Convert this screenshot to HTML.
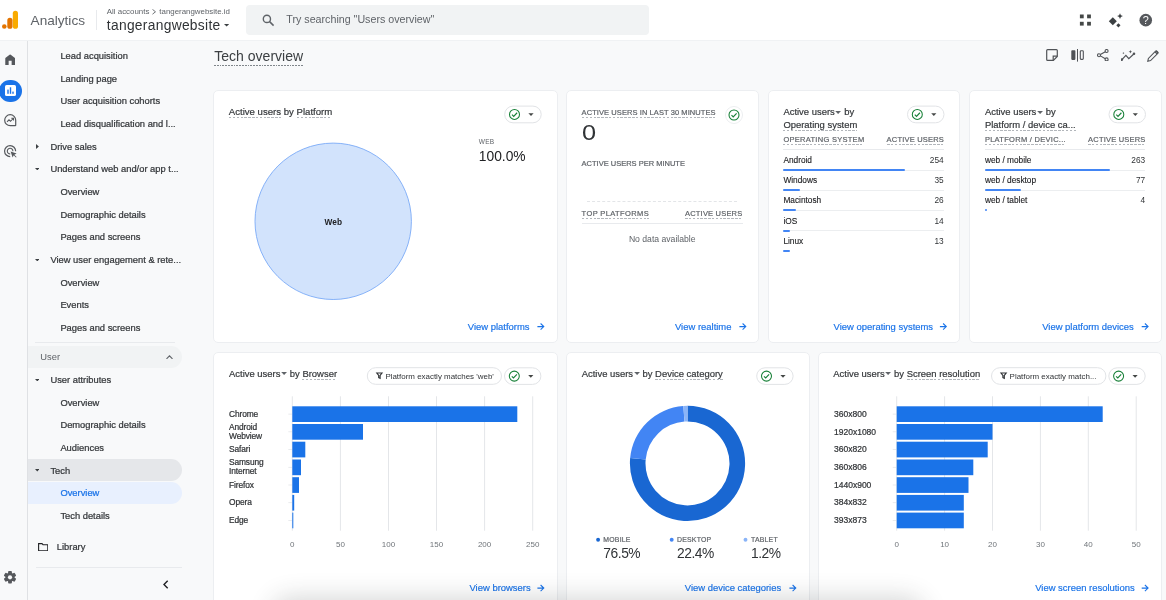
<!DOCTYPE html>
<html lang="en">
<head>
<meta charset="utf-8">
<title>Tech overview - Analytics</title>
<style>
*{box-sizing:border-box}
html,body{margin:0;padding:0}
html{background:#f8f9fa}
#app{position:absolute;left:0;top:0;width:1166px;height:600px;overflow:hidden;will-change:transform}
body{width:1166px;height:600px;overflow:hidden;position:relative;background:#f8f9fa;font-family:"Liberation Sans",Arial,sans-serif;color:#3c4043}
.t{position:absolute;white-space:nowrap;line-height:1;margin:0;font-weight:400}
.m{-webkit-text-stroke:0.24px currentColor}
.m2{-webkit-text-stroke:0.2px currentColor}
.abs{position:absolute}
header.top{position:absolute;left:0;top:0;width:1166px;height:41px;background:#fff;border-bottom:1px solid #f0f2f4}
.search{position:absolute;left:246px;top:5px;width:402.5px;height:30px;background:#f1f3f4;border-radius:4px}
nav.rail{position:absolute;left:0;top:41px;width:28px;height:559px;border-right:1px solid #dfe1e4;background:#f8f9fa}
nav.side{position:absolute;left:28px;top:40px;width:160px;height:560px}
nav.side ul{list-style:none;margin:0;padding:0}
.pill{position:absolute;left:0;width:154px;border-radius:0 11px 11px 0}
.card{position:absolute;background:#fff;border:1px solid #eceef1;border-radius:5px}
.du{background:repeating-linear-gradient(90deg,#b2b6bb 0,#b2b6bb 2.5px,transparent 2.5px,transparent 3.85px) 0 100%/100% 1px no-repeat;padding-bottom:1.1px}
.chk{position:absolute;height:17.6px;border:1px solid #e2e4e7;border-radius:9px;background:#fff}
.link{color:#1a73e8;-webkit-text-stroke:0.18px #1a73e8}
.hr{position:absolute;height:1px;background:#e8eaed}
.bar{position:absolute;height:2px;background:#4285f4;border-radius:1px}
</style>
</head>
<body>
<div id="app">
<header class="top">
<svg class="abs" style="left:2px;top:10px" width="17" height="20" viewBox="0 0 17 20"><rect x="10.8" y="0.7" width="5.2" height="18.1" rx="2.6" fill="#f9ab00"/><rect x="5.3" y="7.8" width="5.2" height="11" rx="2.6" fill="#e37400"/><circle cx="2.3" cy="16.5" r="2.3" fill="#e37400"/></svg>
<span class="t" style="left:30.6px;top:13.5px;font-size:13.6px;color:#5f6368;">Analytics</span>
<div class="abs" style="left:95.5px;top:10px;width:1px;height:20px;background:#e8eaed"></div>
<span class="t" style="left:106.8px;top:8.4px;font-size:7.9px;color:#5f6368;">All accounts <svg width="4.2" height="5.6" viewBox="0 0 4.2 5.6" style="vertical-align:-0.3px;margin:0 0.6px 0 0.8px"><path d="M0.5 0.4L3.5 2.8L0.5 5.2" fill="none" stroke="#5f6368" stroke-width="0.9"/></svg> tangerangwebsite.id</span>
<span class="t" style="left:106.8px;top:19.0px;font-size:13.8px;color:#303336;letter-spacing:0.3px">tangerangwebsite</span>
<svg class="abs" style="left:224.2px;top:24.0px" width="5.2" height="2.6" viewBox="0 0 5.2 2.6"><path d="M0 0H5.2L2.6 2.6Z" fill="#3c4043"/></svg>
<div class="search">
<svg class="abs" style="left:16px;top:9.3px" width="13" height="13" viewBox="0 0 13 13"><circle cx="4.9" cy="4.9" r="3.6" fill="none" stroke="#5f6368" stroke-width="1.4"/><path d="M7.6 7.6L11.6 11.6" stroke="#5f6368" stroke-width="1.5"/></svg>
<span class="t" style="left:40.3px;top:9.2px;font-size:10.7px;color:#5f6368;">Try searching "Users overview"</span>
</div>
<svg class="abs" style="left:1079px;top:14px" width="13" height="13" viewBox="0 0 13 13" fill="#444746"><rect x="0.9" y="0.5" width="3.8" height="3.8"/><rect x="8.1" y="0.5" width="3.8" height="3.8"/><rect x="0.9" y="7.8" width="3.8" height="3.8"/><rect x="8.1" y="7.8" width="3.8" height="3.8"/></svg>
<svg class="abs" style="left:1108px;top:12px" width="16" height="17" viewBox="0 0 16 17" fill="#3c4043"><path d="M4.8 5.3L8.8 9.3L4.8 13.3L0.8 9.3Z"/><path d="M12 1.2L12.9 3.2L14.9 4.1L12.9 5L12 7L11.1 5L9.1 4.1L11.1 3.2Z"/><path d="M10.4 11.2L12.5 13.3L10.4 15.4L8.3 13.3Z"/></svg>
<svg class="abs" style="left:1139px;top:13px" width="14" height="15" viewBox="0 0 14 15"><circle cx="6.75" cy="7.15" r="6.3" fill="#55585c"/><text x="6.75" y="11.1" font-size="10.8" font-weight="400" text-anchor="middle" fill="#fff" font-family="Liberation Sans,Arial,sans-serif">?</text></svg>
</header>
<nav class="rail"><div class="abs" style="left:0;top:-1px">
<svg class="abs" style="left:4.9px;top:14.4px" width="10.3" height="11.8" viewBox="0 0 11 12" preserveAspectRatio="none"><path d="M0.3 11.3V4.6Q0.3 4.1 0.7 3.8L4.9 0.7Q5.5 0.3 6.1 0.7L10.3 3.8Q10.7 4.1 10.7 4.6V11.3H7.1V6.8H3.9V11.3Z" fill="#55585c"/></svg>
<div class="abs" style="left:-0.9px;top:39.5px;width:22.4px;height:22.4px;border-radius:50%;background:#1a73e8"></div>
<svg class="abs" style="left:4.5px;top:45px" width="11" height="11" viewBox="0 0 11 11"><rect x="0" y="0" width="11" height="11" rx="1.6" fill="#fff"/><rect x="2.3" y="4.6" width="1.4" height="4.2" fill="#1a73e8"/><rect x="4.8" y="2.3" width="1.4" height="6.5" fill="#1a73e8"/><rect x="7.3" y="6.6" width="1.4" height="2.2" fill="#1a73e8"/></svg>
<svg class="abs" style="left:3.5px;top:74.3px" width="13" height="13" viewBox="0 0 13 13" fill="none" stroke="#55585c" stroke-width="1.2"><path d="M6.2 0.7A5.5 5.5 0 1 0 6.2 11.7H11.2Q11.7 11.7 11.7 11.2V6.2A5.5 5.5 0 0 0 6.2 0.7Z"/><path d="M3 7.8L5 5.8L6.5 7.3L9.3 4.5M7.3 4.3H9.5V6.5" stroke-width="1.05"/></svg>
<svg class="abs" style="left:3.5px;top:104.5px" width="14" height="14" viewBox="0 0 14 14" fill="none" stroke="#55585c" stroke-width="1.2"><path d="M6.2 11.6A5.5 5.5 0 1 1 11.6 6.2"/><path d="M6.2 8.9A2.8 2.8 0 1 1 8.9 6.2" stroke-width="1.1"/><path d="M6.6 6.6L12.6 8.6L10.3 9.7L12.6 12L12 12.6L9.7 10.3L8.6 12.6Z" fill="#55585c" stroke="none"/></svg>
<svg class="abs" style="left:3px;top:530px" width="14" height="14" viewBox="-7 -7.3 14 14"><g fill="#55585c"><rect x="-1.9" y="-6.2" width="3.8" height="12.4" rx="0.9" transform="rotate(0)"/><rect x="-1.9" y="-6.2" width="3.8" height="12.4" rx="0.9" transform="rotate(60)"/><rect x="-1.9" y="-6.2" width="3.8" height="12.4" rx="0.9" transform="rotate(120)"/><circle r="4.5"/></g><circle r="2.1" fill="#f8f9fa"/></svg>
</div></nav>
<nav class="side">
<div class="hr" style="left:6.600000000000001px;top:301.6px;width:140px"></div>
<div class="pill" style="top:305.7px;height:22.6px;background:#f1f3f4"></div>
<div class="pill" style="top:419px;height:22.4px;background:#e5e7ea"></div>
<div class="pill" style="top:441.6px;height:22.4px;background:#e8f0fe"></div>
<ul>
<li><span class="t m" style="left:32.4px;top:11.8px;font-size:9.35px;color:#34373a;">Lead acquisition</span></li>
<li><span class="t m" style="left:32.4px;top:34.5px;font-size:9.35px;color:#34373a;">Landing page</span></li>
<li><span class="t m" style="left:32.4px;top:57.1px;font-size:9.35px;color:#34373a;">User acquisition cohorts</span></li>
<li><span class="t m" style="left:32.4px;top:79.8px;font-size:9.35px;color:#34373a;">Lead disqualification and l...</span></li>
<li><svg class="abs" style="left:7.9px;top:103.9px" width="2.9" height="5" viewBox="0 0 2.9 5"><path d="M0 0L2.9 2.5L0 5Z" fill="#3c4043"/></svg><span class="t m" style="left:22.4px;top:102.5px;font-size:9.35px;color:#34373a;">Drive sales</span></li>
<li><svg class="abs" style="left:6.9px;top:127.9px" width="4.6" height="2.4" viewBox="0 0 4.6 2.4"><path d="M0 0H4.6L2.3 2.4Z" fill="#3c4043"/></svg><span class="t m" style="left:22.4px;top:125.1px;font-size:9.35px;color:#34373a;">Understand web and/or app t...</span></li>
<li><span class="t m" style="left:32.4px;top:147.8px;font-size:9.35px;color:#34373a;">Overview</span></li>
<li><span class="t m" style="left:32.4px;top:170.5px;font-size:9.35px;color:#34373a;">Demographic details</span></li>
<li><span class="t m" style="left:32.4px;top:193.1px;font-size:9.35px;color:#34373a;">Pages and screens</span></li>
<li><svg class="abs" style="left:6.9px;top:218.6px" width="4.6" height="2.4" viewBox="0 0 4.6 2.4"><path d="M0 0H4.6L2.3 2.4Z" fill="#3c4043"/></svg><span class="t m" style="left:22.4px;top:215.8px;font-size:9.35px;color:#34373a;">View user engagement &amp; rete...</span></li>
<li><span class="t m" style="left:32.4px;top:238.5px;font-size:9.35px;color:#34373a;">Overview</span></li>
<li><span class="t m" style="left:32.4px;top:261.1px;font-size:9.35px;color:#34373a;">Events</span></li>
<li><span class="t m" style="left:32.4px;top:283.8px;font-size:9.35px;color:#34373a;">Pages and screens</span></li>
</ul>
<span class="t" style="left:12.3px;top:312.8px;font-size:9.35px;color:#5f6368;">User</span>
<svg class="abs" style="left:137.5px;top:314.8px" width="7" height="4.4" viewBox="0 0 7 4.4"><path d="M0.5 3.9L3.5 0.8L6.5 3.9" fill="none" stroke="#5f6368" stroke-width="1.1"/></svg>
<ul>
<li><svg class="abs" style="left:6.9px;top:338.7px" width="4.6" height="2.4" viewBox="0 0 4.6 2.4"><path d="M0 0H4.6L2.3 2.4Z" fill="#3c4043"/></svg><span class="t m" style="left:22.4px;top:335.9px;font-size:9.35px;color:#34373a;">User attributes</span></li>
<li><span class="t m" style="left:32.4px;top:358.6px;font-size:9.35px;color:#34373a;">Overview</span></li>
<li><span class="t m" style="left:32.4px;top:381.2px;font-size:9.35px;color:#34373a;">Demographic details</span></li>
<li><span class="t m" style="left:32.4px;top:403.9px;font-size:9.35px;color:#34373a;">Audiences</span></li>
<li><svg class="abs" style="left:6.9px;top:429.3px" width="4.6" height="2.4" viewBox="0 0 4.6 2.4"><path d="M0 0H4.6L2.3 2.4Z" fill="#3c4043"/></svg><span class="t m" style="left:22.4px;top:426.5px;font-size:9.35px;color:#34373a;">Tech</span></li>
<li><span class="t m" style="left:32.4px;top:449.2px;font-size:9.35px;color:#1a73e8;">Overview</span></li>
<li><span class="t m" style="left:32.4px;top:471.8px;font-size:9.35px;color:#34373a;">Tech details</span></li>
</ul>
<svg class="abs" style="left:10px;top:502.70000000000005px" width="10.4" height="8.4" viewBox="0 0 10.4 8.4"><path d="M0.6 0.6H4L5 1.7H9.8V7.8H0.6Z" fill="none" stroke="#202124" stroke-width="1.1"/></svg>
<span class="t m" style="left:28.8px;top:502.5px;font-size:9.35px;color:#34373a;">Library</span>
<div class="hr" style="left:7.5px;top:526.8px;width:146px"></div>
<svg class="abs" style="left:135.2px;top:540.3px" width="5.4" height="9" viewBox="0 0 5.4 9"><path d="M4.7 0.7L1 4.5L4.7 8.3" fill="none" stroke="#202124" stroke-width="1.4"/></svg>
</nav>
<main>
<h1 class="t" style="left:214.2px;top:49.4px;font-size:14.05px;color:#3c4043;"><span class="du" style="padding-bottom:1.3px;background-image:repeating-linear-gradient(90deg,#80868b 0,#80868b 1.8px,transparent 1.8px,transparent 2.8px)">Tech overview</span></h1>
<svg class="abs" style="left:1046.3px;top:49.3px" width="12" height="12" viewBox="0 0 12 12" fill="none" stroke="#505357" stroke-width="1.2"><path d="M1.6 0.7H10.4Q11.3 0.7 11.3 1.6V7.4L7.4 11.3H1.6Q0.7 11.3 0.7 10.4V1.6Q0.7 0.7 1.6 0.7Z"/><path d="M7.2 11.2V7.2H11.2"/></svg>
<svg class="abs" style="left:1071px;top:48.8px" width="13" height="13" viewBox="0 0 13 13"><rect x="0.3" y="1.3" width="4.1" height="9.6" rx="0.8" fill="#505357"/><rect x="6" y="0" width="1" height="12.6" fill="#505357"/><rect x="9.3" y="1.8" width="3" height="8.6" rx="0.8" fill="none" stroke="#505357" stroke-width="1.1"/></svg>
<svg class="abs" style="left:1096.5px;top:49px" width="12" height="12.4" viewBox="0 0 12 12.4" fill="none" stroke="#505357" stroke-width="1.1"><circle cx="9.6" cy="2" r="1.5"/><circle cx="9.6" cy="10.4" r="1.5"/><circle cx="2" cy="6.2" r="1.5"/><path d="M3.4 5.5L8.3 2.7M3.4 6.9L8.3 9.7"/></svg>
<svg class="abs" style="left:1120.6px;top:50px" width="15" height="11" viewBox="0 0 15 11" fill="none" stroke="#505357" stroke-width="1.2"><path d="M0.9 9.6L4.9 5.4L7.8 8.6L12.8 4"/><circle cx="0.9" cy="9.6" r="0.7" fill="#505357"/><circle cx="13" cy="3.8" r="0.7" fill="#505357"/><path d="M9.4 0L9.9 1.3L11.2 1.8L9.9 2.3L9.4 3.6L8.9 2.3L7.6 1.8L8.9 1.3Z" fill="#505357" stroke="none"/><path d="M2.4 2L2.7 2.8L3.5 3.1L2.7 3.4L2.4 4.2L2.1 3.4L1.3 3.1L2.1 2.8Z" fill="#505357" stroke="none"/></svg>
<svg class="abs" style="left:1146.8px;top:49.5px" width="12" height="12" viewBox="0 0 12 12" fill="none" stroke="#505357" stroke-width="1.1"><path d="M0.8 11.2L1.4 8.4L8.6 1.2Q9.2 0.6 9.8 1.2L10.8 2.2Q11.4 2.8 10.8 3.4L3.6 10.6Z"/><path d="M8 1.8L10.2 4" /><path d="M8.4 1.4L9.4 0.6L11.4 2.6L10.6 3.6Z" fill="#505357" stroke="none"/></svg>
<section class="card" style="left:213px;top:90px;width:344.5px;height:252.5px">
<h2 class="t m2" style="left:14.8px;top:15.6px;font-size:9.6px;color:#34373a;"><span class="du">Active users</span> by <span class="du">Platform</span></h2>
<svg class="abs" style="left:289px;top:13px" width="41" height="21" viewBox="0 0 41 21"><rect x="1.70" y="2.10" width="36.50" height="16.70" rx="8.35" fill="#fff" stroke="#e1e3e6" stroke-width="1"/><g transform="translate(1.20 1.60)"><circle cx="10.3" cy="8.85" r="5" fill="none" stroke="#188038" stroke-width="1.05"/><path d="M7.8 9.049999999999999 L9.5 10.75 L12.9 7.1499999999999995" fill="none" stroke="#188038" stroke-width="1.15"/><path d="M24.2 7.6499999999999995H29.4L26.8 10.45Z" fill="#444746"/></g></svg>
<svg class="abs" style="left:39px;top:50px" width="160" height="160" viewBox="253 141 160 160"><circle cx="333.2" cy="221.3" r="78.2" fill="#d2e3fc" stroke="#7baaf7" stroke-width="0.9"/><text x="333.3" y="224.5" font-size="8.3" font-weight="700" text-anchor="middle" fill="#202124" font-family="Liberation Sans,Arial,sans-serif">Web</text></svg>
<span class="t" style="left:264.8px;top:48.1px;font-size:6.5px;color:#5f6368;letter-spacing:0.25px">WEB</span>
<span class="t" style="left:264.8px;top:58.6px;font-size:13.8px;color:#202124;">100.0%</span>
<a class="t link" style="left:253.8px;top:230.9px;font-size:9.45px;color:#1a73e8;">View platforms</a><svg class="abs" style="left:323px;top:231px" width="10" height="10" viewBox="0 0 10 10"><path transform="translate(0.00 0.90)" d="M0.4 3.7H6.6M3.6 0.6L6.8 3.7L3.6 6.8" fill="none" stroke="#1a73e8" stroke-width="1.05"/></svg>
</section>
<section class="card" style="left:566px;top:90px;width:193px;height:252.5px">
<span class="t m2" style="left:14.6px;top:17.7px;font-size:7.5px;color:#5f6368;letter-spacing:0.08px"><span class="du">ACTIVE USERS IN LAST 30 MINUTES</span></span>
<div class="abs" style="left:158.20000000000005px;top:14.900000000000006px;width:18px;height:18px;border-radius:50%;border:1px solid #eceef0"></div>
<svg class="abs" style="left:160.20000000000005px;top:16.900000000000006px" width="14" height="14" viewBox="-7 -7 14 14"><circle r="5" fill="none" stroke="#188038" stroke-width="1.05"/><path d="M-2.5 0.2 L-0.8 1.9 L2.6 -1.7" fill="none" stroke="#188038" stroke-width="1.15"/></svg>
<span class="t" style="left:14.6px;top:30.9px;font-size:22.6px;color:#303336;transform:scaleX(1.12);transform-origin:0 50%">0</span>
<span class="t m2" style="left:14.6px;top:68.8px;font-size:7.5px;color:#5f6368;">ACTIVE USERS PER MINUTE</span>
<div class="abs" style="left:20px;top:109.6px;width:150px;height:0;border-top:1px dashed #e3e5e8"></div>
<span class="t m2" style="left:14.6px;top:119.2px;font-size:7.5px;color:#5f6368;letter-spacing:0.38px"><span class="du" style="padding-bottom:1.2px">TOP PLATFORMS</span></span>
<span class="t m2" style="left:118.0px;top:119.2px;font-size:7.5px;color:#5f6368;letter-spacing:0.2px"><span class="du" style="padding-bottom:1.2px">ACTIVE USERS</span></span>
<div class="hr" style="left:14.600000000000023px;top:131.6px;width:161.4px"></div>
<span class="t" style="left:61.9px;top:143.7px;font-size:8.65px;color:#5f6368;">No data available</span>
<a class="t link" style="left:108.0px;top:230.9px;font-size:9.45px;color:#1a73e8;">View realtime</a><svg class="abs" style="left:172px;top:231px" width="10" height="10" viewBox="0 0 10 10"><path transform="translate(0.00 0.90)" d="M0.4 3.7H6.6M3.6 0.6L6.8 3.7L3.6 6.8" fill="none" stroke="#1a73e8" stroke-width="1.05"/></svg>
</section>
<section class="card" style="left:768px;top:90px;width:192px;height:252.5px">
<h2 style="margin:0;font-weight:400">
<span class="t m2" style="left:14.4px;top:16.2px;font-size:9.45px;color:#34373a;">Active users<svg width="6.2" height="3" viewBox="0 0 6.2 3" style="vertical-align:1.6px;margin-left:0.6px"><path d="M0.2 0H6L3.1 3Z" fill="#5f6368"/></svg> by</span>
<span class="t m2" style="left:14.4px;top:29.0px;font-size:9.45px;color:#34373a;"><span class="du">Operating system</span></span>
</h2>
<svg class="abs" style="left:137px;top:13px" width="41" height="21" viewBox="0 0 41 21"><rect x="1.50" y="2.10" width="36.50" height="16.70" rx="8.35" fill="#fff" stroke="#e1e3e6" stroke-width="1"/><g transform="translate(1.00 1.60)"><circle cx="10.3" cy="8.85" r="5" fill="none" stroke="#188038" stroke-width="1.05"/><path d="M7.8 9.049999999999999 L9.5 10.75 L12.9 7.1499999999999995" fill="none" stroke="#188038" stroke-width="1.15"/><path d="M24.2 7.6499999999999995H29.4L26.8 10.45Z" fill="#444746"/></g></svg>
<span class="t m2" style="left:14.4px;top:44.9px;font-size:7.5px;color:#5f6368;letter-spacing:0.28px"><span class="du">OPERATING SYSTEM</span></span>
<span class="t m2" style="right:15.0px;top:44.9px;font-size:7.5px;color:#5f6368;letter-spacing:0.2px"><span class="du">ACTIVE USERS</span></span>
<div class="hr" style="left:14.399999999999977px;top:58.19999999999999px;width:160.60000000000002px"></div>
<span class="t" style="left:14.4px;top:65.2px;font-size:8.3px;color:#202124;-webkit-text-stroke:0.12px currentColor">Android</span>
<span class="t" style="right:15.3px;top:65.2px;font-size:8.3px;color:#303336;">254</span>
<div class="hr" style="left:14.399999999999977px;top:78.6px;width:160.60000000000002px;background:#eceef0"></div>
<div class="bar" style="left:14.399999999999977px;top:77.9px;width:122.1px"></div>
<span class="t" style="left:14.4px;top:85.3px;font-size:8.3px;color:#202124;-webkit-text-stroke:0.12px currentColor">Windows</span>
<span class="t" style="right:15.3px;top:85.3px;font-size:8.3px;color:#303336;">35</span>
<div class="hr" style="left:14.399999999999977px;top:98.8px;width:160.60000000000002px;background:#eceef0"></div>
<div class="bar" style="left:14.399999999999977px;top:98.1px;width:16.8px"></div>
<span class="t" style="left:14.4px;top:105.4px;font-size:8.3px;color:#202124;-webkit-text-stroke:0.12px currentColor">Macintosh</span>
<span class="t" style="right:15.3px;top:105.4px;font-size:8.3px;color:#303336;">26</span>
<div class="hr" style="left:14.399999999999977px;top:119.0px;width:160.60000000000002px;background:#eceef0"></div>
<div class="bar" style="left:14.399999999999977px;top:118.3px;width:12.5px"></div>
<span class="t" style="left:14.4px;top:125.5px;font-size:8.3px;color:#202124;-webkit-text-stroke:0.12px currentColor">iOS</span>
<span class="t" style="right:15.3px;top:125.5px;font-size:8.3px;color:#303336;">14</span>
<div class="hr" style="left:14.399999999999977px;top:139.3px;width:160.60000000000002px;background:#eceef0"></div>
<div class="bar" style="left:14.399999999999977px;top:138.6px;width:6.7px"></div>
<span class="t" style="left:14.4px;top:145.6px;font-size:8.3px;color:#202124;-webkit-text-stroke:0.12px currentColor">Linux</span>
<span class="t" style="right:15.3px;top:145.6px;font-size:8.3px;color:#303336;">13</span>

<div class="bar" style="left:14.399999999999977px;top:158.8px;width:6.3px"></div>
<a class="t link" style="left:64.6px;top:230.9px;font-size:9.45px;color:#1a73e8;">View operating systems</a><svg class="abs" style="left:170px;top:231px" width="10" height="10" viewBox="0 0 10 10"><path transform="translate(0.50 0.90)" d="M0.4 3.7H6.6M3.6 0.6L6.8 3.7L3.6 6.8" fill="none" stroke="#1a73e8" stroke-width="1.05"/></svg>
</section>
<section class="card" style="left:969px;top:90px;width:192.5px;height:252.5px">
<h2 style="margin:0;font-weight:400">
<span class="t m2" style="left:14.9px;top:16.2px;font-size:9.45px;color:#34373a;">Active users<svg width="6.2" height="3" viewBox="0 0 6.2 3" style="vertical-align:1.6px;margin-left:0.6px"><path d="M0.2 0H6L3.1 3Z" fill="#5f6368"/></svg> by</span>
<span class="t m2" style="left:14.9px;top:29.0px;font-size:9.45px;color:#34373a;"><span class="du">Platform / device ca...</span></span>
</h2>
<svg class="abs" style="left:137px;top:13px" width="41" height="21" viewBox="0 0 41 21"><rect x="2.00" y="2.10" width="36.50" height="16.70" rx="8.35" fill="#fff" stroke="#e1e3e6" stroke-width="1"/><g transform="translate(1.50 1.60)"><circle cx="10.3" cy="8.85" r="5" fill="none" stroke="#188038" stroke-width="1.05"/><path d="M7.8 9.049999999999999 L9.5 10.75 L12.9 7.1499999999999995" fill="none" stroke="#188038" stroke-width="1.15"/><path d="M24.2 7.6499999999999995H29.4L26.8 10.45Z" fill="#444746"/></g></svg>
<span class="t m2" style="left:14.9px;top:44.9px;font-size:7.5px;color:#5f6368;letter-spacing:0.28px"><span class="du">PLATFORM / DEVIC...</span></span>
<span class="t m2" style="right:15.0px;top:44.9px;font-size:7.5px;color:#5f6368;letter-spacing:0.2px"><span class="du">ACTIVE USERS</span></span>
<div class="hr" style="left:14.899999999999977px;top:58.19999999999999px;width:160.60000000000002px"></div>
<span class="t" style="left:14.9px;top:65.2px;font-size:8.3px;color:#202124;-webkit-text-stroke:0.12px currentColor">web / mobile</span>
<span class="t" style="right:15.3px;top:65.2px;font-size:8.3px;color:#303336;">263</span>
<div class="hr" style="left:14.899999999999977px;top:78.6px;width:160.60000000000002px;background:#eceef0"></div>
<div class="bar" style="left:14.899999999999977px;top:77.9px;width:125.0px"></div>
<span class="t" style="left:14.9px;top:85.3px;font-size:8.3px;color:#202124;-webkit-text-stroke:0.12px currentColor">web / desktop</span>
<span class="t" style="right:15.3px;top:85.3px;font-size:8.3px;color:#303336;">77</span>
<div class="hr" style="left:14.899999999999977px;top:98.8px;width:160.60000000000002px;background:#eceef0"></div>
<div class="bar" style="left:14.899999999999977px;top:98.1px;width:36.6px"></div>
<span class="t" style="left:14.9px;top:105.4px;font-size:8.3px;color:#202124;-webkit-text-stroke:0.12px currentColor">web / tablet</span>
<span class="t" style="right:15.3px;top:105.4px;font-size:8.3px;color:#303336;">4</span>

<div class="bar" style="left:14.899999999999977px;top:118.3px;width:1.9px"></div>
<a class="t link" style="left:72.2px;top:230.9px;font-size:9.45px;color:#1a73e8;">View platform devices</a><svg class="abs" style="left:171px;top:231px" width="10" height="10" viewBox="0 0 10 10"><path transform="translate(0.30 0.90)" d="M0.4 3.7H6.6M3.6 0.6L6.8 3.7L3.6 6.8" fill="none" stroke="#1a73e8" stroke-width="1.05"/></svg>
</section>
<section class="card" style="left:213px;top:352px;width:344.5px;height:262px">
<h2 class="t m2" style="left:15.0px;top:16.0px;font-size:9.45px;color:#34373a;">Active users<svg width="6.2" height="3" viewBox="0 0 6.2 3" style="vertical-align:1.6px;margin-left:0.6px"><path d="M0.2 0H6L3.1 3Z" fill="#5f6368"/></svg> by <span class="du">Browser</span></h2>
<svg class="abs" style="left:151px;top:13px" width="139" height="21" viewBox="0 0 139 21"><rect x="2.30" y="1.70" width="134.20" height="16.60" rx="8.30" fill="#fff" stroke="#e1e3e6" stroke-width="1"/><g transform="translate(1.80 1.20)"><path d="M10 5.8H15.2L13.3 8.3V11.2L11.9 10.5V8.3Z" fill="none" stroke="#303336" stroke-width="1.15"/></g></svg><span class="t" style="left:171.4px;top:19.7px;font-size:7.95px;color:#303336;">Platform exactly matches 'web'</span>
<svg class="abs" style="left:289px;top:13px" width="41" height="21" viewBox="0 0 41 21"><rect x="1.50" y="1.80" width="36.40" height="16.60" rx="8.30" fill="#fff" stroke="#e1e3e6" stroke-width="1"/><g transform="translate(1.00 1.30)"><circle cx="10.3" cy="8.8" r="5" fill="none" stroke="#188038" stroke-width="1.05"/><path d="M7.8 9.0 L9.5 10.700000000000001 L12.9 7.1000000000000005" fill="none" stroke="#188038" stroke-width="1.15"/><path d="M24.2 7.6000000000000005H29.4L26.8 10.4Z" fill="#444746"/></g></svg>
<svg class="abs" style="left:14.0px;top:39.0px" width="322.5" height="160" viewBox="228 392 322.5 160"><rect x="291.8" y="396.3" width="1" height="134.4" fill="#e4e6e9"/><text x="292.3" y="546.6" font-size="8" text-anchor="middle" fill="#70757a" font-family="Liberation Sans,Arial,sans-serif">0</text><rect x="339.9" y="396.3" width="1" height="134.4" fill="#e4e6e9"/><text x="340.4" y="546.6" font-size="8" text-anchor="middle" fill="#70757a" font-family="Liberation Sans,Arial,sans-serif">50</text><rect x="388.0" y="396.3" width="1" height="134.4" fill="#e4e6e9"/><text x="388.5" y="546.6" font-size="8" text-anchor="middle" fill="#70757a" font-family="Liberation Sans,Arial,sans-serif">100</text><rect x="436.0" y="396.3" width="1" height="134.4" fill="#e4e6e9"/><text x="436.5" y="546.6" font-size="8" text-anchor="middle" fill="#70757a" font-family="Liberation Sans,Arial,sans-serif">150</text><rect x="484.1" y="396.3" width="1" height="134.4" fill="#e4e6e9"/><text x="484.6" y="546.6" font-size="8" text-anchor="middle" fill="#70757a" font-family="Liberation Sans,Arial,sans-serif">200</text><rect x="532.2" y="396.3" width="1" height="134.4" fill="#e4e6e9"/><text x="532.7" y="546.6" font-size="8" text-anchor="middle" fill="#70757a" font-family="Liberation Sans,Arial,sans-serif">250</text><rect x="288.3" y="413.7" width="4" height="0.8" fill="#e4e6e9"/><rect x="292.3" y="406.3" width="225.0" height="15.7" fill="#1a73e8"/><rect x="288.3" y="431.4" width="4" height="0.8" fill="#e4e6e9"/><rect x="292.3" y="424.0" width="70.7" height="15.7" fill="#1a73e8"/><rect x="288.3" y="449.1" width="4" height="0.8" fill="#e4e6e9"/><rect x="292.3" y="441.7" width="13.0" height="15.7" fill="#1a73e8"/><rect x="288.3" y="466.9" width="4" height="0.8" fill="#e4e6e9"/><rect x="292.3" y="459.5" width="8.7" height="15.7" fill="#1a73e8"/><rect x="288.3" y="484.6" width="4" height="0.8" fill="#e4e6e9"/><rect x="292.3" y="477.2" width="6.7" height="15.7" fill="#1a73e8"/><rect x="288.3" y="502.3" width="4" height="0.8" fill="#e4e6e9"/><rect x="292.3" y="494.9" width="1.9" height="15.7" fill="#1a73e8"/><rect x="288.3" y="520.0" width="4" height="0.8" fill="#e4e6e9"/><rect x="292.3" y="512.6" width="1.0" height="15.7" fill="#1a73e8"/><text x="229" y="417.0" font-size="8.4" fill="#303336" stroke="#303336" stroke-width="0.22" letter-spacing="-0.12" font-family="Liberation Sans,Arial,sans-serif">Chrome</text><text x="229" y="430.0" font-size="8.4" fill="#303336" stroke="#303336" stroke-width="0.22" letter-spacing="-0.12" font-family="Liberation Sans,Arial,sans-serif">Android</text><text x="229" y="439.0" font-size="8.4" fill="#303336" stroke="#303336" stroke-width="0.22" letter-spacing="-0.12" font-family="Liberation Sans,Arial,sans-serif">Webview</text><text x="229" y="452.2" font-size="8.4" fill="#303336" stroke="#303336" stroke-width="0.22" letter-spacing="-0.12" font-family="Liberation Sans,Arial,sans-serif">Safari</text><text x="229" y="465.3" font-size="8.4" fill="#303336" stroke="#303336" stroke-width="0.22" letter-spacing="-0.12" font-family="Liberation Sans,Arial,sans-serif">Samsung</text><text x="229" y="474.3" font-size="8.4" fill="#303336" stroke="#303336" stroke-width="0.22" letter-spacing="-0.12" font-family="Liberation Sans,Arial,sans-serif">Internet</text><text x="229" y="487.5" font-size="8.4" fill="#303336" stroke="#303336" stroke-width="0.22" letter-spacing="-0.12" font-family="Liberation Sans,Arial,sans-serif">Firefox</text><text x="229" y="505.1" font-size="8.4" fill="#303336" stroke="#303336" stroke-width="0.22" letter-spacing="-0.12" font-family="Liberation Sans,Arial,sans-serif">Opera</text><text x="229" y="522.7" font-size="8.4" fill="#303336" stroke="#303336" stroke-width="0.22" letter-spacing="-0.12" font-family="Liberation Sans,Arial,sans-serif">Edge</text></svg>
<a class="t link" style="left:255.5px;top:230.4px;font-size:9.45px;color:#1a73e8;">View browsers</a><svg class="abs" style="left:323px;top:231px" width="10" height="10" viewBox="0 0 10 10"><path transform="translate(0.00 0.40)" d="M0.4 3.7H6.6M3.6 0.6L6.8 3.7L3.6 6.8" fill="none" stroke="#1a73e8" stroke-width="1.05"/></svg>
</section>
<section class="card" style="left:566px;top:352px;width:243.5px;height:262px">
<h2 class="t m2" style="left:14.7px;top:16.0px;font-size:9.45px;color:#34373a;">Active users<svg width="6.2" height="3" viewBox="0 0 6.2 3" style="vertical-align:1.6px;margin-left:0.6px"><path d="M0.2 0H6L3.1 3Z" fill="#5f6368"/></svg> by <span class="du">Device category</span></h2>
<svg class="abs" style="left:188px;top:13px" width="41" height="21" viewBox="0 0 41 21"><rect x="1.70" y="1.80" width="36.40" height="16.60" rx="8.30" fill="#fff" stroke="#e1e3e6" stroke-width="1"/><g transform="translate(1.20 1.30)"><circle cx="10.3" cy="8.8" r="5" fill="none" stroke="#188038" stroke-width="1.05"/><path d="M7.8 9.0 L9.5 10.700000000000001 L12.9 7.1000000000000005" fill="none" stroke="#188038" stroke-width="1.15"/><path d="M24.2 7.6000000000000005H29.4L26.8 10.4Z" fill="#444746"/></g></svg>
<svg class="abs" style="left:58px;top:47px" width="126" height="126" viewBox="625 400 126 126"><path d="M687.50 405.80A57.6 57.6 0 1 1 630.16 457.98L645.69 459.45A42 42 0 1 0 687.50 421.40Z" fill="#1967d2"/><path d="M630.16 457.98A57.6 57.6 0 0 1 683.34 405.95L684.47 421.51A42 42 0 0 0 645.69 459.45Z" fill="#4285f4"/><path d="M683.34 405.95A57.6 57.6 0 0 1 687.50 405.80L687.50 421.40A42 42 0 0 0 684.47 421.51Z" fill="#8ab4f8"/></svg>
<span class="t m2" style="left:36.3px;top:183.8px;font-size:6.9px;color:#5f6368;letter-spacing:0.22px">MOBILE</span>
<span class="t" style="left:36.3px;top:193.7px;font-size:13.8px;color:#303336;letter-spacing:-0.45px">76.5%</span>
<span class="t m2" style="left:110.0px;top:183.8px;font-size:6.9px;color:#5f6368;letter-spacing:0.22px">DESKTOP</span>
<span class="t" style="left:110.0px;top:193.7px;font-size:13.8px;color:#303336;letter-spacing:-0.45px">22.4%</span>
<span class="t m2" style="left:184.0px;top:183.8px;font-size:6.9px;color:#5f6368;letter-spacing:0.22px">TABLET</span>
<span class="t" style="left:184.0px;top:193.7px;font-size:13.8px;color:#303336;letter-spacing:-0.45px">1.2%</span>
<svg class="abs" style="left:23px;top:181px" width="170" height="12" viewBox="590 534 170 12"><circle cx="598.1" cy="539.8" r="1.95" fill="#1967d2"/><circle cx="671.7" cy="539.8" r="1.95" fill="#4285f4"/><circle cx="745.5" cy="539.8" r="1.95" fill="#8ab4f8"/></svg>
<a class="t link" style="left:117.8px;top:230.4px;font-size:9.45px;color:#1a73e8;">View device categories</a><svg class="abs" style="left:222px;top:231px" width="10" height="10" viewBox="0 0 10 10"><path transform="translate(0.00 0.40)" d="M0.4 3.7H6.6M3.6 0.6L6.8 3.7L3.6 6.8" fill="none" stroke="#1a73e8" stroke-width="1.05"/></svg>
</section>
<section class="card" style="left:818px;top:352px;width:343.5px;height:262px">
<h2 class="t m2" style="left:14.3px;top:16.0px;font-size:9.45px;color:#34373a;">Active users<svg width="6.2" height="3" viewBox="0 0 6.2 3" style="vertical-align:1.6px;margin-left:0.6px"><path d="M0.2 0H6L3.1 3Z" fill="#5f6368"/></svg> by <span class="du">Screen resolution</span></h2>
<svg class="abs" style="left:171px;top:13px" width="119" height="21" viewBox="0 0 119 21"><rect x="1.50" y="1.70" width="114.40" height="16.60" rx="8.30" fill="#fff" stroke="#e1e3e6" stroke-width="1"/><g transform="translate(1.00 1.20)"><path d="M10 5.8H15.2L13.3 8.3V11.2L11.9 10.5V8.3Z" fill="none" stroke="#303336" stroke-width="1.15"/></g></svg><span class="t" style="left:190.6px;top:19.7px;font-size:7.95px;color:#303336;">Platform exactly match...</span>
<svg class="abs" style="left:288px;top:13px" width="41" height="21" viewBox="0 0 41 21"><rect x="1.80" y="1.80" width="36.40" height="16.60" rx="8.30" fill="#fff" stroke="#e1e3e6" stroke-width="1"/><g transform="translate(1.30 1.30)"><circle cx="10.3" cy="8.8" r="5" fill="none" stroke="#188038" stroke-width="1.05"/><path d="M7.8 9.0 L9.5 10.700000000000001 L12.9 7.1000000000000005" fill="none" stroke="#188038" stroke-width="1.15"/><path d="M24.2 7.6000000000000005H29.4L26.8 10.4Z" fill="#444746"/></g></svg>
<svg class="abs" style="left:13.3px;top:39.0px" width="321.5" height="160" viewBox="832.3 392 321.5 160"><rect x="896.5" y="396.3" width="1" height="134.4" fill="#e4e6e9"/><text x="897.0" y="546.6" font-size="8" text-anchor="middle" fill="#70757a" font-family="Liberation Sans,Arial,sans-serif">0</text><rect x="944.4" y="396.3" width="1" height="134.4" fill="#e4e6e9"/><text x="944.9" y="546.6" font-size="8" text-anchor="middle" fill="#70757a" font-family="Liberation Sans,Arial,sans-serif">10</text><rect x="992.3" y="396.3" width="1" height="134.4" fill="#e4e6e9"/><text x="992.8" y="546.6" font-size="8" text-anchor="middle" fill="#70757a" font-family="Liberation Sans,Arial,sans-serif">20</text><rect x="1040.2" y="396.3" width="1" height="134.4" fill="#e4e6e9"/><text x="1040.7" y="546.6" font-size="8" text-anchor="middle" fill="#70757a" font-family="Liberation Sans,Arial,sans-serif">30</text><rect x="1088.1" y="396.3" width="1" height="134.4" fill="#e4e6e9"/><text x="1088.6" y="546.6" font-size="8" text-anchor="middle" fill="#70757a" font-family="Liberation Sans,Arial,sans-serif">40</text><rect x="1136.0" y="396.3" width="1" height="134.4" fill="#e4e6e9"/><text x="1136.5" y="546.6" font-size="8" text-anchor="middle" fill="#70757a" font-family="Liberation Sans,Arial,sans-serif">50</text><rect x="893.0" y="413.7" width="4" height="0.8" fill="#e4e6e9"/><rect x="897.0" y="406.3" width="206.0" height="15.7" fill="#1a73e8"/><rect x="893.0" y="431.4" width="4" height="0.8" fill="#e4e6e9"/><rect x="897.0" y="424.0" width="95.8" height="15.7" fill="#1a73e8"/><rect x="893.0" y="449.1" width="4" height="0.8" fill="#e4e6e9"/><rect x="897.0" y="441.7" width="91.0" height="15.7" fill="#1a73e8"/><rect x="893.0" y="466.9" width="4" height="0.8" fill="#e4e6e9"/><rect x="897.0" y="459.5" width="76.6" height="15.7" fill="#1a73e8"/><rect x="893.0" y="484.6" width="4" height="0.8" fill="#e4e6e9"/><rect x="897.0" y="477.2" width="71.8" height="15.7" fill="#1a73e8"/><rect x="893.0" y="502.3" width="4" height="0.8" fill="#e4e6e9"/><rect x="897.0" y="494.9" width="67.1" height="15.7" fill="#1a73e8"/><rect x="893.0" y="520.0" width="4" height="0.8" fill="#e4e6e9"/><rect x="897.0" y="512.6" width="67.1" height="15.7" fill="#1a73e8"/><text x="834.3" y="417.0" font-size="8.5" fill="#303336" stroke="#303336" stroke-width="0.22" letter-spacing="0" font-family="Liberation Sans,Arial,sans-serif">360x800</text><text x="834.3" y="434.6" font-size="8.5" fill="#303336" stroke="#303336" stroke-width="0.22" letter-spacing="0" font-family="Liberation Sans,Arial,sans-serif">1920x1080</text><text x="834.3" y="452.2" font-size="8.5" fill="#303336" stroke="#303336" stroke-width="0.22" letter-spacing="0" font-family="Liberation Sans,Arial,sans-serif">360x820</text><text x="834.3" y="469.9" font-size="8.5" fill="#303336" stroke="#303336" stroke-width="0.22" letter-spacing="0" font-family="Liberation Sans,Arial,sans-serif">360x806</text><text x="834.3" y="487.5" font-size="8.5" fill="#303336" stroke="#303336" stroke-width="0.22" letter-spacing="0" font-family="Liberation Sans,Arial,sans-serif">1440x900</text><text x="834.3" y="505.1" font-size="8.5" fill="#303336" stroke="#303336" stroke-width="0.22" letter-spacing="0" font-family="Liberation Sans,Arial,sans-serif">384x832</text><text x="834.3" y="522.7" font-size="8.5" fill="#303336" stroke="#303336" stroke-width="0.22" letter-spacing="0" font-family="Liberation Sans,Arial,sans-serif">393x873</text></svg>
<a class="t link" style="left:216.2px;top:230.4px;font-size:9.45px;color:#1a73e8;">View screen resolutions</a><svg class="abs" style="left:322px;top:231px" width="10" height="10" viewBox="0 0 10 10"><path transform="translate(0.30 0.40)" d="M0.4 3.7H6.6M3.6 0.6L6.8 3.7L3.6 6.8" fill="none" stroke="#1a73e8" stroke-width="1.05"/></svg>
</section>
</main>
<div class="abs" style="left:282px;top:607px;width:632px;height:40px;border-radius:8px;box-shadow:0 0 26px 9px rgba(40,44,47,0.2)"></div>
</div>
</body>
</html>
